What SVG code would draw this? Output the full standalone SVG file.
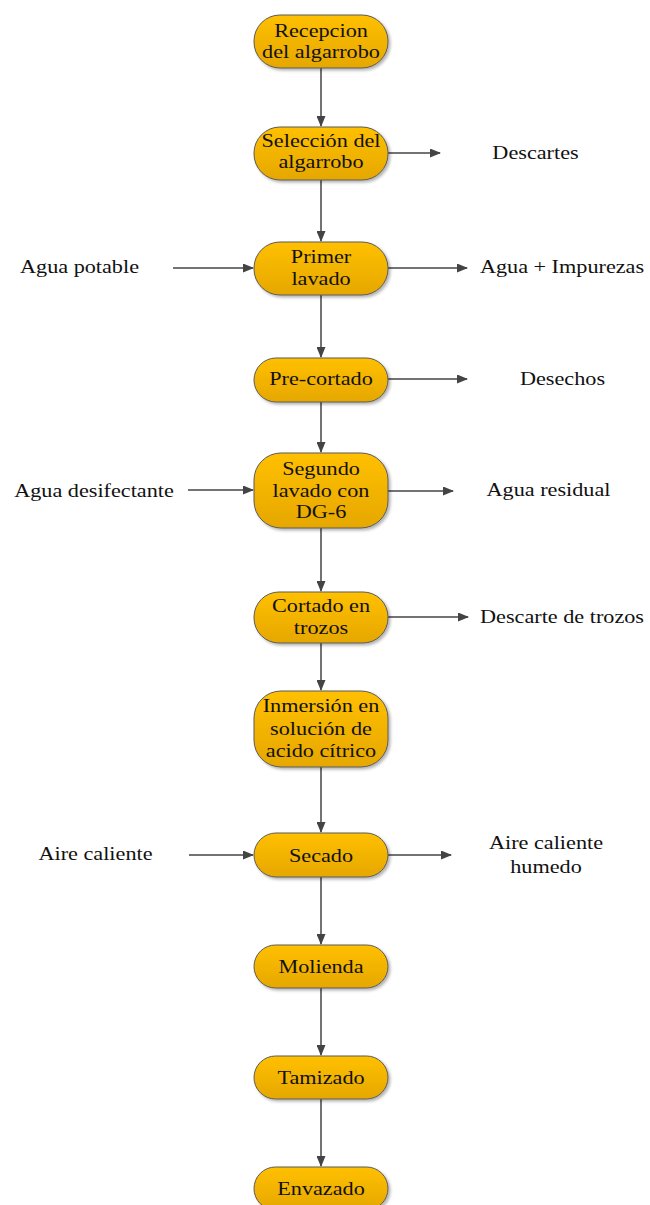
<svg xmlns="http://www.w3.org/2000/svg" width="650" height="1205" viewBox="0 0 650 1205">
<style>
.n rect{fill:url(#g);stroke:#5a5a5a;stroke-width:1;filter:url(#sh)}
text{font-family:"Liberation Serif","Times New Roman",serif;font-size:19px;fill:#111;text-anchor:middle}
.c path{fill:none;stroke:#444;stroke-width:1.5;marker-end:url(#a)}
</style>
<defs>
<linearGradient id="g" x1="0" y1="0" x2="0" y2="1"><stop offset="0" stop-color="#FFC000"/><stop offset="1" stop-color="#E6A700"/></linearGradient>
<filter id="sh" x="-10%" y="-20%" width="125%" height="150%"><feDropShadow dx="2" dy="2" stdDeviation="1.5" flood-color="#000" flood-opacity="0.3"/></filter>
<marker id="a" markerUnits="userSpaceOnUse" markerWidth="11" markerHeight="9" refX="10" refY="4.5" orient="auto"><path d="M0,0 L11,4.5 L0,9 z" fill="#444"/></marker>
</defs>
<g class="c" id="connectors">
<path d="M321,68 V126"/>
<path d="M321,180 V241"/>
<path d="M321,295 V357"/>
<path d="M321,402 V452"/>
<path d="M321,528 V591"/>
<path d="M321,643 V690"/>
<path d="M321,767 V832"/>
<path d="M321,877 V944"/>
<path d="M321,988 V1055"/>
<path d="M321,1099 V1166"/>
<path d="M388,153 H440"/>
<path d="M388,268 H467"/>
<path d="M388,379 H467"/>
<path d="M388,491 H453"/>
<path d="M388,617 H468"/>
<path d="M388,855 H451"/>
<path d="M173,268 H253"/>
<path d="M188,490 H253"/>
<path d="M189,855 H253"/>
</g>
<g class="n" id="n1"><rect x="254" y="15" width="134" height="53" rx="26"/><text transform="translate(321,37) scale(1.17,1)">Recepcion</text><text transform="translate(321,58) scale(1.17,1)">del algarrobo</text></g>
<g class="n" id="n2"><rect x="254" y="127" width="134" height="53" rx="26"/><text transform="translate(321,147) scale(1.17,1)">Selección del</text><text transform="translate(321,168) scale(1.17,1)">algarrobo</text></g>
<g class="n" id="n3"><rect x="254" y="242" width="134" height="53" rx="26"/><text transform="translate(321,263) scale(1.17,1)">Primer</text><text transform="translate(321,285) scale(1.17,1)">lavado</text></g>
<g class="n" id="n4"><rect x="254" y="358" width="134" height="44" rx="22"/><text transform="translate(321,385) scale(1.17,1)">Pre-cortado</text></g>
<g class="n" id="n5"><rect x="254" y="453" width="134" height="75" rx="27"/><text transform="translate(321,475) scale(1.17,1)">Segundo</text><text transform="translate(321,497) scale(1.17,1)">lavado con</text><text transform="translate(321,518) scale(1.17,1)">DG-6</text></g>
<g class="n" id="n6"><rect x="254" y="592" width="134" height="51" rx="25"/><text transform="translate(321,612) scale(1.17,1)">Cortado en</text><text transform="translate(321,634) scale(1.17,1)">trozos</text></g>
<g class="n" id="n7"><rect x="254" y="691" width="134" height="76" rx="27"/><text transform="translate(321,712) scale(1.17,1)">Inmersión en</text><text transform="translate(321,735) scale(1.17,1)">solución de</text><text transform="translate(321,757) scale(1.17,1)">acido cítrico</text></g>
<g class="n" id="n8"><rect x="254" y="833" width="134" height="44" rx="22"/><text transform="translate(321,862) scale(1.17,1)">Secado</text></g>
<g class="n" id="n9"><rect x="254" y="945" width="134" height="43" rx="21.5"/><text transform="translate(321,973) scale(1.17,1)">Molienda</text></g>
<g class="n" id="n10"><rect x="254" y="1056" width="134" height="43" rx="21.5"/><text transform="translate(321,1084) scale(1.17,1)">Tamizado</text></g>
<g class="n" id="n11"><rect x="254" y="1167" width="134" height="43" rx="21.5"/><text transform="translate(321,1195) scale(1.17,1)">Envazado</text></g>
<g id="labels">
<text transform="translate(535.5,159) scale(1.17,1)">Descartes</text>
<text transform="translate(562,273) scale(1.17,1)">Agua + Impurezas</text>
<text transform="translate(562.5,385) scale(1.17,1)">Desechos</text>
<text transform="translate(548.5,496) scale(1.17,1)">Agua residual</text>
<text transform="translate(562,623) scale(1.17,1)">Descarte de trozos</text>
<text transform="translate(546,849) scale(1.17,1)">Aire caliente</text>
<text transform="translate(546,873) scale(1.17,1)">humedo</text>
<text transform="translate(79.5,273) scale(1.17,1)">Agua potable</text>
<text transform="translate(94,497) scale(1.17,1)">Agua desifectante</text>
<text transform="translate(95.5,860) scale(1.17,1)">Aire caliente</text>
</g>
</svg>
